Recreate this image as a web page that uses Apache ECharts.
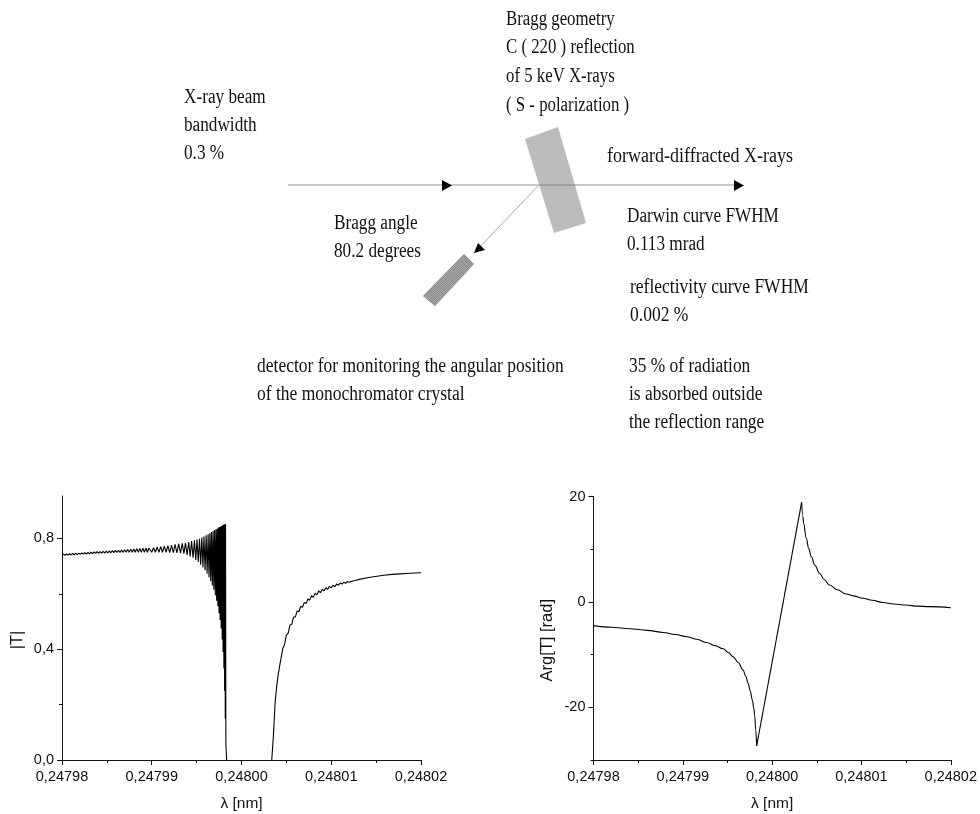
<!DOCTYPE html>
<html><head><meta charset="utf-8">
<style>html,body{margin:0;padding:0;background:#fff}#c{width:980px;height:814px}</style>
<script src="https://cdn.jsdelivr.net/npm/echarts@6/dist/echarts.min.js"></script>
</head><body><div id="c"></div>
<script>
// |T| curve: [wavelength nm, value] (fringes alternate peak / trough)
const modTLeft = [[0.24798000,.7385],[0.24798017,.7430],[0.24798034,.7390],[0.24798051,.7438],[0.24798068,.7397],[0.24798085,.7446],[0.24798102,.7403],[0.24798119,.7454],[0.24798136,.7410],[0.24798153,.7462],[0.24798170,.7416],[0.24798187,.7470],[0.24798204,.7423],[0.24798221,.7478],[0.24798238,.7429],[0.24798255,.7486],[0.24798272,.7436],[0.24798289,.7494],[0.24798306,.7442],[0.24798323,.7502],[0.24798340,.7449],[0.24798357,.7510],[0.24798374,.7455],[0.24798391,.7518],[0.24798408,.7460],[0.24798425,.7526],[0.24798442,.7465],[0.24798459,.7534],[0.24798476,.7470],[0.24798493,.7542],[0.24798510,.7475],[0.24798527,.7550],[0.24798544,.7480],[0.24798561,.7558],[0.24798578,.7485],[0.24798595,.7566],[0.24798612,.7490],[0.24798629,.7574],[0.24798646,.7493],[0.24798663,.7582],[0.24798680,.7496],[0.24798697,.7590],[0.24798714,.7498],[0.24798731,.7600],[0.24798748,.7499],[0.24798765,.7610],[0.24798782,.7500],[0.24798799,.7620],[0.24798816,.7500],[0.24798833,.7630],[0.24798850,.7500],[0.24798867,.7640],[0.24798884,.7500],[0.24798901,.7648],[0.24798918,.7500],[0.24798935,.7655],[0.24798952,.7500],[0.24798969,.7655],
[0.24799000,.750],[0.24799020,.766],[0.24799040,.750],[0.24799060,.768],[0.24799080,.750],[0.24799100,.770],[0.24799120,.750],[0.24799140,.772],[0.24799160,.750],[0.24799180,.774],[0.24799200,.749],[0.24799220,.776],[0.24799240,.749],[0.24799260,.778],[0.24799280,.748],[0.24799300,.780],[0.24799320,.747],[0.24799340,.782],[0.24799358,.745],[0.24799376,.784],[0.24799394,.740],[0.24799412,.787],[0.24799428,.735],[0.24799444,.790],[0.24799460,.730],[0.24799476,.793],[0.24799490,.722],[0.24799504,.796],[0.24799518,.715],[0.24799532,.799],[0.24799545,.705],[0.24799558,.803],[0.24799570,.695],[0.24799582,.807],[0.24799594,.685],[0.24799606,.811],[0.24799617,.672],[0.24799628,.815],[0.24799638,.660],[0.24799648,.819],[0.24799657,.645],[0.24799666,.823],[0.24799675,.630],[0.24799684,.827],[0.24799692,.615],[0.24799700,.830],[0.24799708,.595],[0.24799716,.833],[0.24799723,.575],[0.24799730,.836],[0.24799737,.555],[0.24799744,.839],[0.24799750,.530],[0.24799756,.841],[0.24799762,.505],[0.24799768,.843],[0.24799774,.475],[0.24799780,.845],[0.24799785,.435],[0.24799790,.847],[0.24799795,.390],[0.24799800,.849],[0.24799804,.330],[0.24799808,.850],[0.24799812,.250],[0.24799816,.851],[0.24799819,.150],[0.24799822,.852],[0.24799826,.060],[0.24799834,0]];
const modTRight = [[0.24800337,0],[0.24800355,.084],[0.24800374,.205],[0.24800392,.266],[0.24800411,.313],[0.24800430,.349],[0.24800440,.366],[0.24800460,.403],[0.24800480,.417],[0.24800500,.451],[0.24800520,.458],[0.24800540,.487],[0.24800560,.490],[0.24800580,.516],[0.24800600,.516],[0.24800620,.538],[0.24800640,.535],[0.24800660,.555],[0.24800680,.551],[0.24800700,.569],[0.24800720,.565],[0.24800740,.581],[0.24800760,.577],[0.24800780,.593],[0.24800800,.587],[0.24800820,.602],[0.24800840,.596],[0.24800860,.610],[0.24800880,.604],[0.24800900,.616],[0.24800920,.611],[0.24800940,.622],[0.24800960,.616],[0.24800980,.627],[0.24801000,.621],[0.24801020,.631],[0.24801040,.626],[0.24801060,.635],[0.24801080,.631],[0.24801100,.639],[0.24801120,.635],[0.24801140,.642],[0.24801160,.638],[0.24801180,.644],[0.24801200,.642],[0.24801230,.645],[0.24801300,.651],[0.24801400,.658],[0.24801584,.667],[0.24801680,.670],[0.24801770,.672],[0.24801880,.674],[0.24802000,.676]];
// Arg[T] curve, three smooth pieces
const argTBelow = [[0.24798000,-4.5],[0.24798200,-4.8],[0.24798409,-5.1],[0.24798600,-5.4],[0.24798782,-5.8],[0.24798920,-6.2],[0.24799042,-6.6],[0.24799160,-7.1],[0.24799265,-7.7],[0.24799360,-8.3],[0.24799451,-8.9],[0.24799510,-9.6],[0.24799563,-10.4],[0.24799620,-11.5],[0.24799674,-12.9],[0.24799705,-14.1],[0.24799730,-15.4],[0.24799755,-16.9],[0.24799778,-18.6],[0.24799795,-20.2],[0.24799805,-21.6],[0.24799816,-24.3],[0.24799827,-27.3]];
const argTRamp = [[0.24799827,-27.3],[0.24800330,18.9]];
const argTAbove = [[0.24800330,18.9],[0.24800345,16.2],[0.24800352,14.9],[0.24800382,12.1],[0.24800410,10.1],[0.24800438,8.6],[0.24800480,6.9],[0.24800531,5.4],[0.24800585,4.2],[0.24800642,3.2],[0.24800730,2.3],[0.24800828,1.5],[0.24800920,1.1],[0.24801015,.7],[0.24801120,.3],[0.24801238,-.1],[0.24801360,-.4],[0.24801498,-.6],[0.24801630,-.8],[0.24801758,-.9],[0.24802000,-1.1]];
const xTicks = [0.24798,0.24799,0.248,0.24801,0.24802];
const xMinorTicks = [0.247985,0.247995,0.248005,0.248015];
const tTicks = [0,0.4,0.8];
const tMinorTicks = [0.2,0.6];
const argTicks = [-20,0,20];
const argMinorTicks = [-30,-10,10];

const ink='#111', FONT='"Liberation Sans",Arial,sans-serif', SERIF='"Liberation Serif",serif';
const fmtT=v=>v.toFixed(1).replace('.',',');
const fmtX=v=>v.toFixed(5).replace('.',',');
function xAxes(g){return [
 {type:'value',gridIndex:g,min:0.24798,max:0.24802,position:'bottom',name:'λ [nm]',nameLocation:'middle',nameGap:36,
  nameTextStyle:{fontFamily:FONT,fontSize:15.5,color:ink},splitLine:{show:false},
  axisLine:{show:true,onZero:false,lineStyle:{color:ink,width:1}},
  axisTick:{show:true,length:5,lineStyle:{color:ink},customValues:xTicks},
  axisLabel:{show:true,margin:9,fontFamily:FONT,fontSize:14.5,color:ink,customValues:xTicks,formatter:fmtX,hideOverlap:false}},
 {type:'value',gridIndex:g,min:0.24798,max:0.24802,position:'bottom',splitLine:{show:false},
  axisLine:{show:false,onZero:false},axisLabel:{show:false},
  axisTick:{show:true,length:3,lineStyle:{color:ink},customValues:xMinorTicks}}];}
function yAxes(g,min,max,ticks,minor,name,gap,pad,fmt){return [
 {type:'value',gridIndex:g,min,max,position:'left',name,nameLocation:'middle',nameGap:gap,
  nameTextStyle:{fontFamily:FONT,fontSize:16.5,color:ink,padding:pad},splitLine:{show:false},
  axisLine:{show:true,onZero:false,lineStyle:{color:ink,width:1}},
  axisTick:{show:true,length:5,lineStyle:{color:ink},customValues:ticks},
  axisLabel:{show:true,margin:8,fontFamily:FONT,fontSize:14.5,color:ink,customValues:ticks,formatter:fmt}},
 {type:'value',gridIndex:g,min,max,position:'left',splitLine:{show:false},
  axisLine:{show:false,onZero:false},axisLabel:{show:false},
  axisTick:{show:true,length:3,lineStyle:{color:ink},customValues:minor}}];}

const txt=(x,y,lines,lh,sx)=>lines.map((s,i)=>({type:'text',x,y:y+i*lh,scaleX:sx,scaleY:1.08,
  style:{text:s,fontFamily:SERIF,fontSize:20,fill:'#111',textVerticalAlign:'middle'}}));
const tri=(pts)=>({type:'polygon',shape:{points:pts},style:{fill:'#000'}});
const hatch=[];
for(let i=0;i<=24;i++){const t=i/24;hatch.push({type:'line',shape:{x1:464+t*10,y1:254+t*10,x2:423+t*12,y2:296+t*10},style:{stroke:i%2?'#6e6e6e':'#c4c4c4',lineWidth:.6}});}

const line=(x,y,data,smooth,w)=>({type:'line',xAxisIndex:x,yAxisIndex:y,data,symbol:'none',smooth,smoothMonotone:smooth?'x':undefined,lineStyle:{color:'#000',width:w}});
// The built-in line series drops points closer than 2 px, which would erase the fine fringes,
// so |T| is drawn as one polyline through the axis scales.
const fringe=(x,y,data)=>({type:'custom',xAxisIndex:x,yAxisIndex:y,coordinateSystem:'cartesian2d',data,encode:{x:0,y:1},silent:true,clip:false,
  renderItem:(p,api)=>p.dataIndex!==0?null:({type:'polyline',shape:{points:data.map(d=>api.coord(d))},
    style:{stroke:'#000',fill:null,lineWidth:1.1,lineJoin:'bevel'}})});
const option={animation:false,backgroundColor:'#fff',
 grid:[{left:62,top:496,width:359,height:264},{left:593.5,top:496.5,width:358,height:263.5}],
 xAxis:[...xAxes(0),...xAxes(1)],
 yAxis:[...yAxes(0,0,0.953,tTicks,tMinorTicks,'|T|',36,[0,24,0,0],fmtT),
        ...yAxes(1,-30,20,argTicks,argMinorTicks,'Arg[T] [rad]',38,[0,24,0,0],v=>String(v))],
 series:[
  fringe(0,0,modTLeft),fringe(0,0,modTRight),
  line(2,2,argTBelow,0.4,1.1),line(2,2,argTRamp,false,1.1),line(2,2,argTAbove,0.4,1.1)
 ],
 graphic:{elements:[
  {type:'polygon',shape:{points:[[525,139],[558,127],[586,223],[554,233]]},style:{fill:'#bcbcbc'}},
  {type:'line',shape:{x1:288,y1:185,x2:740,y2:185},style:{stroke:'rgba(110,110,110,.38)',lineWidth:2}},
  {type:'line',shape:{x1:539,y1:185,x2:478,y2:249},style:{stroke:'#a8a8a8',lineWidth:1}},
  tri([[442,180],[442,191],[452,185.5]]),tri([[734,180],[734,191],[744,185.5]]),
  tri([[474,253],[478,243],[485,250]]),
  {type:'polygon',shape:{points:[[464,254],[474,264],[435,306],[423,296]]},style:{fill:'#999'}},
  ...hatch,
  ...txt(184,97,['X-ray beam','bandwidth','0.3 %'],28,.86),
  ...txt(506,19,['Bragg geometry','C ( 220 ) reflection','of 5 keV X-rays','( S - polarization )'],28.7,.84),
  ...txt(607,156,['forward-diffracted X-rays'],28,.9),
  ...txt(334,223,['Bragg angle','80.2 degrees'],28,.86),
  ...txt(627,216,['Darwin curve FWHM','0.113 mrad'],28,.86),
  ...txt(630,287,['reflectivity curve FWHM','0.002 %'],28,.875),
  ...txt(257,366,['detector for monitoring the angular position','of the monochromator crystal'],28,.875),
  ...txt(629,366,['35 % of radiation','is absorbed outside','the reflection range'],28,.87)
 ]}
};
echarts.init(document.getElementById('c'),null,{renderer:'canvas'}).setOption(option);
</script></body></html>
